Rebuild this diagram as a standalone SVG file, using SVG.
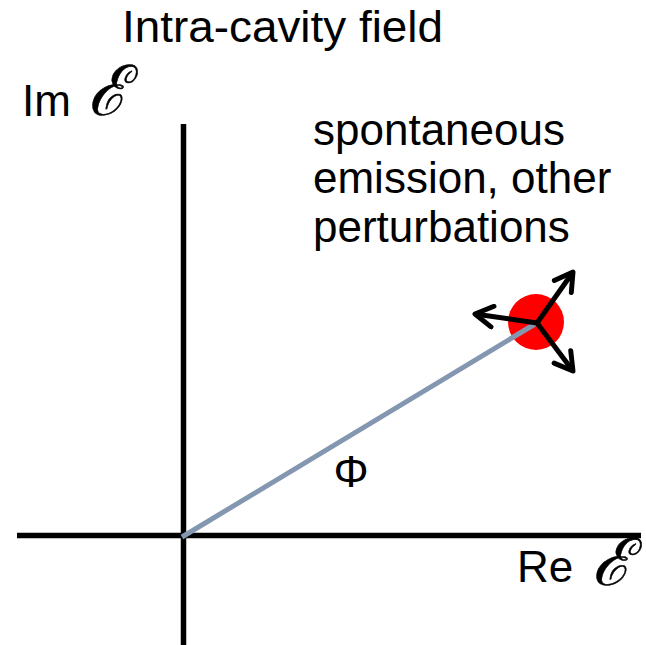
<svg xmlns="http://www.w3.org/2000/svg" width="646" height="645" viewBox="0 0 646 645">
<style>
.t{font-family:"Liberation Sans",Arial,sans-serif;font-size:44px;fill:#000}
.e{font-family:"DejaVu Serif","Liberation Serif",serif;font-style:italic;font-size:62px;fill:#000;stroke:#000;stroke-width:0.5}
.axis{stroke:#000;stroke-width:5.5;fill:none}
.arr{stroke:#000;stroke-width:5;fill:none;marker-end:url(#open)}
</style>
<defs>
<marker id="open" viewBox="0 0 10 10" refX="8" refY="5" markerWidth="5.2" markerHeight="5.2" markerUnits="strokeWidth" orient="auto">
<path d="M1.2,1 L8,5 L1.2,9" fill="none" stroke="#000" stroke-width="1.9" stroke-linecap="round" stroke-linejoin="round"/>
</marker>
</defs>
<rect width="646" height="645" fill="#fff"/>
<g id="axes">
<line class="axis" x1="183.5" y1="124" x2="183.5" y2="645"/>
<line class="axis" x1="17" y1="535.5" x2="641" y2="535.5"/>
</g>
<g id="title"><text class="t" x="122" y="42" font-size="45" textLength="321" lengthAdjust="spacingAndGlyphs">Intra-cavity field</text></g>
<g id="im-label"><text class="t" x="22" y="116">Im</text><text class="e" transform="translate(88,115) scale(1.05,1.12)">ℰ</text></g>
<g id="re-label"><text class="t" x="517" y="582">Re</text><text class="e" transform="translate(592,585) scale(1.05,1.05)">ℰ</text></g>
<g id="perturb-label">
<text class="t" x="313" y="145">spontaneous</text>
<text class="t" x="313" y="193">emission, other</text>
<text class="t" x="313" y="242">perturbations</text>
</g>
<g id="phi-label"><text class="t" x="351" y="487" text-anchor="middle">Φ</text></g>
<g id="field-point"><circle cx="536" cy="322" r="28" fill="#ff0000"/></g>
<g id="connectors">
<line x1="182" y1="537" x2="535" y2="324" stroke="#8497b0" stroke-width="5"/>
<line class="arr" x1="537" y1="323" x2="475" y2="314"/>
<line class="arr" x1="537" y1="323" x2="573" y2="272"/>
<line class="arr" x1="537" y1="323" x2="573" y2="371"/>
</g>
</svg>
